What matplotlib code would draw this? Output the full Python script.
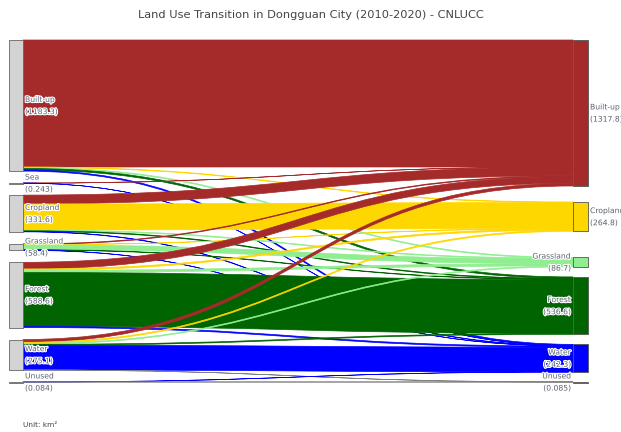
import matplotlib
matplotlib.use("Agg")
import matplotlib.pyplot as plt
import matplotlib.patheffects as pe
from matplotlib.path import Path
from matplotlib.patches import PathPatch, Rectangle

# ---- data -------------------------------------------------------------
src_classes = ["Built-up", "Sea", "Cropland", "Grassland", "Forest", "Water", "Unused"]
src_areas = ["1183.3", "0.243", "331.6", "58.4", "588.6", "275.1", "0.084"]
dst_classes = ["Built-up", "Cropland", "Grassland", "Forest", "Water", "Unused"]
dst_areas = ["1317.8", "264.8", "86.7", "536.6", "242.3", "0.085"]

# transition areas (km2), rows = 2010 class, cols = 2020 class
flows_builtup = [1146.3, 5.0, 8.0, 14.0, 10.0, 0.0]
flows_sea = [0.2, 0.0, 0.0, 0.0, 0.043, 0.0]
flows_cropland = [80.0, 234.8, 7.0, 6.0, 3.8, 0.0]
flows_grassland = [6.3, 3.0, 43.1, 4.0, 2.0, 0.0]
flows_forest = [60.0, 12.0, 20.0, 486.6, 10.0, 0.0]
flows_water = [25.0, 10.0, 8.6, 8.0, 223.48, 0.021]
flows_unused = [0.0, 0.0, 0.0, 0.0, 0.02, 0.064]
flows = [flows_builtup, flows_sea, flows_cropland, flows_grassland,
         flows_forest, flows_water, flows_unused]

colors = {"Built-up": "#A52A2A", "Cropland": "#FFD700", "Grassland": "#90EE90",
          "Forest": "#006400", "Water": "#0000FF", "Unused": "#808080"}

# ---- layout (pixels) --------------------------------------------------
W, H = 621, 432
top, bottom = 40, 382
pad = 12
right_gaps = [16, 26, 10, 10, 10]   # gaps between 2020 nodes after relaxation
xl0, xl1 = 9, 23
xr0, xr1 = 573, 588

src_tot = [sum(r) for r in flows]
dst_tot = [sum(flows[i][j] for i in range(len(flows))) for j in range(len(dst_classes))]
k = (bottom - top - pad * (len(src_tot) - 1)) / sum(src_tot)


def stack(totals, gaps):
    ys, y = [], top
    for n, t in enumerate(totals):
        ys.append(y)
        if n < len(gaps):
            y += k * t + gaps[n]
    return ys


src_y = stack(src_tot, [pad] * (len(src_tot) - 1))
dst_y = stack(dst_tot, right_gaps)

fig = plt.figure(figsize=(W / 100, H / 100), dpi=100)
ax = fig.add_axes([0, 0, 1, 1])
ax.set_xlim(0, W)
ax.set_ylim(H, 0)
ax.axis("off")

# links: at the source ordered by target, at the target ordered by source
src_off = list(src_y)
dst_start = {}
for j in range(len(dst_classes)):
    y = dst_y[j]
    for i in range(len(src_classes)):
        dst_start[(i, j)] = y
        y += k * flows[i][j]

xm = (xl1 + xr0) / 2
for i in range(len(src_classes)):
    for j in range(len(dst_classes)):
        v = flows[i][j]
        if v <= 0:
            continue
        h = k * v
        y0 = src_off[i]
        src_off[i] += h
        y1 = dst_start[(i, j)]
        verts = [(xl1, y0), (xm, y0), (xm, y1), (xr0, y1),
                 (xr0, y1 + h), (xm, y1 + h), (xm, y0 + h), (xl1, y0 + h),
                 (xl1, y0)]
        codes = [Path.MOVETO, Path.CURVE4, Path.CURVE4, Path.CURVE4,
                 Path.LINETO, Path.CURVE4, Path.CURVE4, Path.CURVE4,
                 Path.CLOSEPOLY]
        c = colors[dst_classes[j]]
        ax.add_patch(PathPatch(Path(verts, codes), facecolor=c, edgecolor=c,
                               lw=0.5, zorder=2))

halo = [pe.withStroke(linewidth=1.6, foreground="white")]
txt = dict(fontsize=5.5, color="#5a6272", va="center", linespacing=1.45,
           path_effects=halo, zorder=5)

# 2010 nodes
for i, name in enumerate(src_classes):
    h = max(k * src_tot[i], 0.8)
    ax.add_patch(Rectangle((xl0, src_y[i]), xl1 - xl0, h, facecolor="#d3d3d3",
                           edgecolor="#666666", lw=0.6, zorder=4))
    ax.text(xl1 + 2, src_y[i] + k * src_tot[i] / 2,
            f"{name}\n({src_areas[i]})", ha="left", **txt)

# 2020 nodes
for j, name in enumerate(dst_classes):
    h = max(k * dst_tot[j], 0.8)
    ax.add_patch(Rectangle((xr0, dst_y[j]), xr1 - xr0, h, facecolor=colors[name],
                           edgecolor="#555555", lw=0.6, zorder=4))
    yc = dst_y[j] + k * dst_tot[j] / 2
    label = f"{name}\n({dst_areas[j]})"
    if j < 2:
        ax.text(xr1 + 2, yc, label, ha="left", **txt)
    else:
        ax.text(xr0 - 2, yc, label, ha="right", multialignment="right", **txt)

ax.text(W / 2, 15, "Land Use Transition in Dongguan City (2010-2020) - CNLUCC",
        ha="center", va="center", fontsize=8.2, color="#444444")
ax.text(23, 425, "Unit: km\u00b2", ha="left", va="center", fontsize=5.3,
        color="#444444")

fig.savefig("out.png", dpi=100)
